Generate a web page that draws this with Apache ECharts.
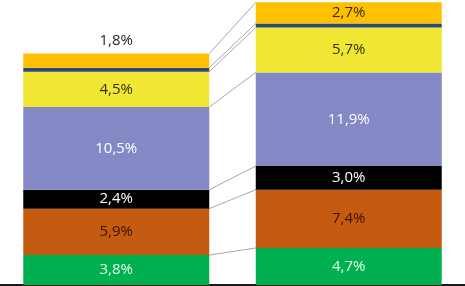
<!DOCTYPE html>
<html>
<head>
<meta charset="utf-8">
<script src="https://cdn.jsdelivr.net/npm/echarts@6/dist/echarts.min.js"></script>
<style>
  html, body { margin: 0; padding: 0; background: #fff; }
  #chart { width: 465px; height: 286px; }
</style>
</head>
<body>
<div id="chart"></div>
<script>
// two columns, segments from bottom to top
const categories = ["A", "B"];
const green = [3.8, 4.7];
const orange = [5.9, 7.4];
const black = [2.4, 3.0];
const purple = [10.5, 11.9];
const yellow = [4.5, 5.7];
const slate = [0.5, 0.5];
const gold = [1.8, 2.7];

const layers = [
  { name: "green", data: green, color: "#00b050", label: "#e6ffe6" },
  { name: "orange", data: orange, color: "#c55a11", label: "#3b1200" },
  { name: "black", data: black, color: "#000000", label: "#ffffff" },
  { name: "purple", data: purple, color: "#8488c4", label: "#ffffff" },
  { name: "yellow", data: yellow, color: "#f2e634", label: "#333300" },
  { name: "slate", data: slate, color: "#2e4a6b", label: null },
  { name: "gold", data: gold, color: "#ffc000", label: "#3a2a00" },
];

const fmt = (v) => v.toFixed(1).replace(".", ",") + "%";

const chart = echarts.init(document.getElementById("chart"));

const series = layers.map((l) => ({
  name: l.name,
  type: "bar",
  stack: "total",
  barCategoryGap: "20%",
  itemStyle: { color: l.color },
  label: {
    show: !!l.label,
    position: "inside",
    color: l.label || "#000",
    fontFamily: "Open Sans",
    fontSize: 15,
    formatter: (p) => fmt(p.value),
  },
  data: l.data.map((v, i) => {
    // first gold segment is too thin, its label sits above the bar
    if (l.name === "gold" && i === 0) {
      return { value: v, label: { position: "top", distance: 5, color: "#262626" } };
    }
    return v;
  }),
}));

// series lines join the top of each segment between the two columns
const tops = [];
let c1 = 0, c2 = 0;
layers.forEach((l) => {
  c1 += l.data[0];
  c2 += l.data[1];
  tops.push([0, c1, c2]);
});

series.push({
  type: "custom",
  silent: true,
  z: 1,
  encode: { x: 0, y: 1 },
  renderItem: (params, api) => {
    const p1 = api.coord([0, api.value(1)]);
    const p2 = api.coord([1, api.value(2)]);
    const half = api.size([1, 0])[0] * 0.4;
    return {
      type: "line",
      shape: { x1: p1[0] + half, y1: p1[1], x2: p2[0] - half, y2: p2[1] },
      style: { stroke: "#a6a6a6", lineWidth: 1 },
    };
  },
  data: tops,
});

chart.setOption({
  animation: false,
  grid: { left: 0, right: 0, top: 0, bottom: 1 },
  xAxis: {
    type: "category",
    data: categories,
    axisLine: { lineStyle: { color: "#1a1a1a", width: 2 } },
    axisTick: { show: false },
    axisLabel: { show: false },
  },
  yAxis: {
    type: "value",
    min: 0,
    max: 36.2,
    show: false,
    splitLine: { show: false },
  },
  series: series,
});
</script>
</body>
</html>
